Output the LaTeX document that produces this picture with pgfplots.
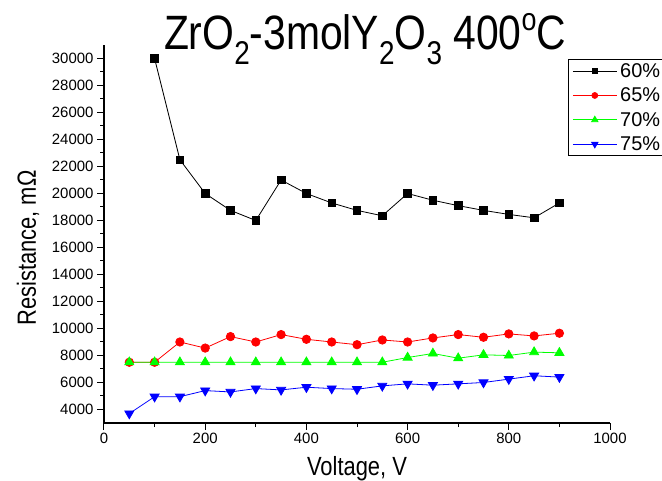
\documentclass[border=0pt]{standalone}
\usepackage{fontspec}
\setmainfont{Liberation Sans}
\usepackage{pgfplots}
\pgfplotsset{compat=1.18}
\newcommand{\sub}[1]{\raisebox{-0.30em}{\fontsize{28}{28}\selectfont #1}}
\newcommand{\sups}[1]{\raisebox{0.40em}{\fontsize{27}{27}\selectfont #1}}

\pgfplotstableread{
x y
100 30000
150 22500
200 20000
250 18750
300 18000
350 21000
400 20000
450 19300
500 18750
550 18350
600 20000
650 19500
700 19100
750 18750
800 18450
850 18200
900 19300
}\dataA
\pgfplotstableread{
x y
50 7500
100 7500
150 9000
200 8550
250 9400
300 9000
350 9550
400 9200
450 9000
500 8800
550 9150
600 9000
650 9300
700 9550
750 9350
800 9600
850 9450
900 9650
}\dataB
\pgfplotstableread{
x y
50 7500
100 7500
150 7500
200 7500
250 7500
300 7500
350 7500
400 7500
450 7500
500 7500
550 7500
600 7850
650 8150
700 7800
750 8050
800 8000
850 8250
900 8200
}\dataC
\pgfplotstableread{
x y
50 3700
100 4950
150 4950
200 5400
250 5300
300 5550
350 5450
400 5650
450 5550
500 5500
550 5750
600 5900
650 5800
700 5900
750 6000
800 6250
850 6500
900 6400
}\dataD

\begin{document}
\begin{tikzpicture}
\begin{axis}[
  name=ax,
  scale only axis,
  width=506bp, height=378bp,
  xmin=0, xmax=1000, ymin=3000, ymax=31000,
  axis lines=left,
  axis line style={-, line width=1.2bp},
  xtick={0,200,...,1000},
  ytick={4000,6000,...,30000},
  minor x tick num=1,
  minor y tick num=1,
  tick align=outside,
  major tick length=7bp,
  minor tick length=4bp,
  every tick/.style={black, line width=1bp},
  scaled ticks=false,
  /pgf/number format/assume math mode=true,
  /pgf/number format/1000 sep={},
  tick label style={font=\fontsize{15}{18}\selectfont},
  xlabel={\scalebox{1}[1.2]{Voltage, V}},
  ylabel={\scalebox{1}[1.2]{Resistance, mΩ}},
  label style={font=\fontsize{22}{26}\selectfont},
  xlabel style={at={(rel axis cs:0.5,0)}, anchor=base, yshift=-52bp},
  ylabel style={at={(rel axis cs:0,0.463)}, anchor=center, rotate=0, yshift=76bp},
  legend style={at={(rel axis cs:0.917,0.963)}, anchor=north west, draw=black, line width=0.8bp,
    font=\fontsize{20}{22}\selectfont, inner xsep=4bp, inner ysep=2bp, row sep=5bp,
    nodes={inner xsep=3bp}},
  legend cell align=left,
  legend image code/.code={\draw[mark repeat=2,mark phase=2, every mark/.append style={scale=0.7}] plot coordinates {(-3bp,0bp) (19bp,0bp) (41bp,0bp)};},
]
\addplot[black, line width=0.8bp, mark=square*, mark size=3.8bp, mark options={solid}] table {\dataA};
\addlegendentry{60\%}
\addplot[red, line width=0.8bp, mark=*, mark size=4.2bp] table {\dataB};
\addlegendentry{65\%}
\addplot[green, line width=0.8bp, mark=triangle*, mark size=5.2bp] table {\dataC};
\addlegendentry{70\%}
\addplot[blue, line width=0.8bp, mark=triangle*, mark size=5.2bp, mark options={rotate=180}] table {\dataD};
\addlegendentry{75\%}
\end{axis}
\node[anchor=base, font=\fontsize{41}{46}\selectfont, inner sep=0pt] at ([xshift=8bp, yshift=-5bp]ax.north) {\scalebox{1}[1.18]{ZrO\sub{2}-3molY\sub{2}O\sub{3} 400\sups{o}C}};
\pgfresetboundingbox
\path[use as bounding box] (-104bp,-58bp) rectangle (558bp,423bp);
\end{tikzpicture}
\end{document}
